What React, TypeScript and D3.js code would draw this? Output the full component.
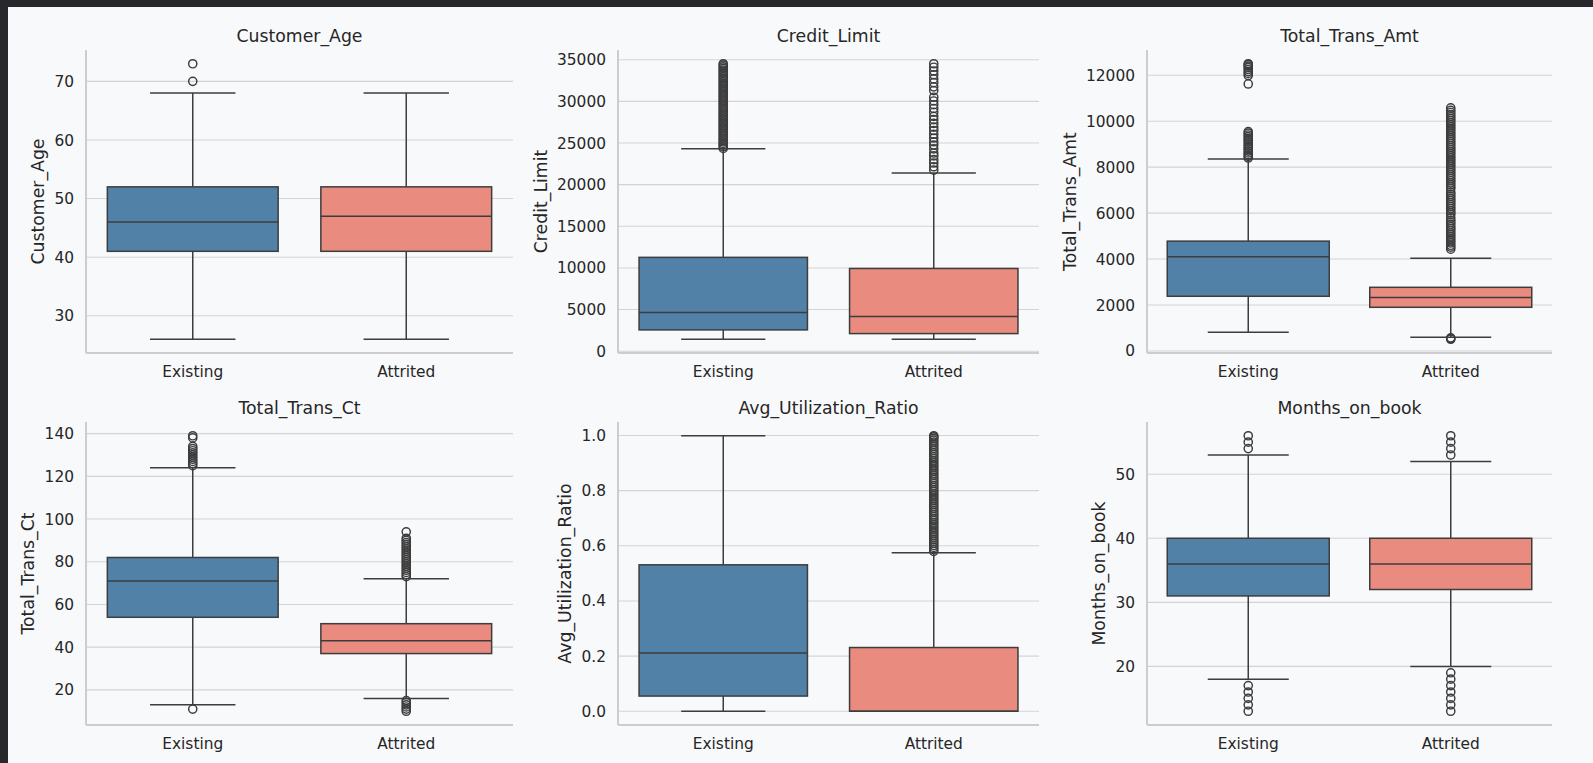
import { useEffect, useRef } from 'react';
import * as d3 from 'd3';

// [lower whisker, q1, median, q3, upper whisker] per category
const categories = ['Existing', 'Attrited'];

const customerAgeBox = [
  [26, 41, 46, 52, 68],
  [26, 41, 47, 52, 68],
];
const customerAgeOutliers = [[70, 73], []];
const customerAgeTicks = [30, 40, 50, 60, 70];

const creditLimitBox = [
  [1438, 2560, 4640, 11270, 24300],
  [1438, 2114, 4178, 9934, 21400],
];
const creditLimitOutliers = [
  [24350, 24550, 24760, 24950, 25150, 25360, 25550, 25760, 25950, 26150, 26350, 26560, 26750, 26950,
    27160, 27350, 27550, 27760, 27950, 28150, 28360, 28550, 28750, 28950, 29160, 29350, 29560, 29750,
    29950, 30160, 30350, 30550, 30760, 30950, 31150, 31360, 31550, 31750, 31960, 32150, 32350, 32560,
    32750, 32950, 33150, 33360, 33550, 33750, 33960, 34150, 34350, 34516],
  [21750, 22150, 22600, 23000, 23450, 23800, 24300, 24750, 25150, 25600, 26050, 26500, 26900, 27350,
    27800, 28200, 28700, 29150, 29600, 30050, 30500, 31300, 31750, 32250, 32700, 33200, 33650, 34100, 34516],
];
const creditLimitTicks = [0, 5000, 10000, 15000, 20000, 25000, 30000, 35000];

const transAmtBox = [
  [816, 2380, 4100, 4780, 8350],
  [600, 1900, 2330, 2770, 4030],
];
const transAmtOutliers = [
  [8400, 8470, 8540, 8620, 8700, 8780, 8850, 8930, 9010, 9090, 9170, 9250, 9330, 9400, 9480, 9550,
    11620, 11990, 12080, 12160, 12250, 12330, 12400, 12460, 12500],
  [510, 540, 570, 4430, 4520, 4600, 4700, 4790, 4870, 4970, 5060, 5140, 5240, 5330, 5410, 5510, 5600, 5680,
    5790, 5930, 6010, 6100, 6190, 6280, 6370, 6460, 6550, 6640, 6730, 6820, 6910, 7060, 7140, 7230, 7320,
    7410, 7500, 7590, 7680, 7770, 7860, 7950, 8040, 8130, 8220, 8310, 8400, 8490, 8580, 8670, 8760, 8850,
    8940, 9030, 9120, 9210, 9300, 9390, 9480, 9570, 9660, 9750, 9840, 9930, 10020, 10110, 10200, 10290,
    10380, 10470, 10580],
];
const transAmtTicks = [0, 2000, 4000, 6000, 8000, 10000, 12000];

const transCtBox = [
  [13, 54, 71, 82, 124],
  [16, 37, 43, 51, 72],
];
const transCtOutliers = [
  [11, 125, 126, 127, 128, 129, 130, 131, 132, 133, 134, 138, 139],
  [10, 11, 12, 13, 14, 15, 73, 74, 75, 76, 77, 78, 79, 80, 81, 82, 83, 84, 85, 86, 87, 88, 89, 90, 91, 94],
];
const transCtTicks = [20, 40, 60, 80, 100, 120, 140];

const utilBox = [
  [0, 0.055, 0.211, 0.531, 0.999],
  [0, 0, 0, 0.231, 0.575],
];
const utilOutliers = [
  [],
  [0.58, 0.587, 0.594, 0.601, 0.609, 0.616, 0.623, 0.631, 0.638, 0.646, 0.653, 0.661, 0.668, 0.676,
    0.683, 0.691, 0.698, 0.706, 0.713, 0.721, 0.728, 0.736, 0.743, 0.751, 0.758, 0.766, 0.773, 0.781,
    0.788, 0.796, 0.803, 0.811, 0.818, 0.826, 0.833, 0.841, 0.848, 0.856, 0.863, 0.871, 0.878, 0.886,
    0.893, 0.901, 0.908, 0.916, 0.923, 0.931, 0.938, 0.946, 0.953, 0.961, 0.968, 0.976, 0.983, 0.99,
    0.995, 0.999],
];
const utilTicks = [0, 0.2, 0.4, 0.6, 0.8, 1.0];

const monthsBox = [
  [18, 31, 36, 40, 53],
  [20, 32, 36, 40, 52],
];
const monthsOutliers = [
  [13, 14, 15, 16, 17, 54, 55, 56],
  [13, 14, 15, 16, 17, 18, 19, 53, 54, 55, 56],
];
const monthsTicks = [20, 30, 40, 50];

const panels = [
  { title: 'Customer_Age', box: customerAgeBox, outliers: customerAgeOutliers, ticks: customerAgeTicks, fmt: 'd' },
  { title: 'Credit_Limit', box: creditLimitBox, outliers: creditLimitOutliers, ticks: creditLimitTicks, fmt: 'd' },
  { title: 'Total_Trans_Amt', box: transAmtBox, outliers: transAmtOutliers, ticks: transAmtTicks, fmt: 'd' },
  { title: 'Total_Trans_Ct', box: transCtBox, outliers: transCtOutliers, ticks: transCtTicks, fmt: 'd' },
  { title: 'Avg_Utilization_Ratio', box: utilBox, outliers: utilOutliers, ticks: utilTicks, fmt: '.1f' },
  { title: 'Months_on_book', box: monthsBox, outliers: monthsOutliers, ticks: monthsTicks, fmt: 'd' },
];

const W = 1593;
const H = 763;
const COLS = [[86, 513], [618, 1039], [1147, 1552]];
const ROWS = [[50, 353], [422, 725]];
const FILLS = ['#5281a8', '#e98b7f'];
const INK = '#262626';
const LINE = '#3d3d3d';
const FONT = '"DejaVu Sans", sans-serif';

export default function App() {
  const ref = useRef<SVGSVGElement>(null);

  useEffect(() => {
    if (!ref.current) return;
    const svg = d3.select(ref.current);
    svg.selectAll('*').remove();

    svg.append('rect').attr('width', W).attr('height', H).attr('fill', '#26282c');
    svg.append('rect').attr('x', 8).attr('y', 7).attr('width', W - 8).attr('height', H - 7).attr('fill', '#f8f9fb');

    panels.forEach((p, i) => {
      const [x0, x1] = COLS[i % 3];
      const [y0, y1] = ROWS[Math.floor(i / 3)];
      const all = p.box.flat().concat(p.outliers.flat());
      const [mn, mx] = d3.extent(all) as [number, number];
      const pad = (mx - mn) * 0.05;
      const y = d3.scaleLinear().domain([mn - pad, mx + pad]).range([y1, y0]);
      const x = d3.scaleBand().domain(categories).range([x0, x1]);
      const fmt = d3.format(p.fmt);

      const g = svg.append('g').attr('font-family', FONT);

      g.selectAll('line.grid')
        .data(p.ticks)
        .join('line')
        .attr('x1', x0)
        .attr('x2', x1)
        .attr('y1', (d) => y(d))
        .attr('y2', (d) => y(d))
        .attr('stroke', '#d3d4d8')
        .attr('stroke-width', 1.1);

      g.append('line').attr('x1', x0).attr('x2', x0).attr('y1', y0).attr('y2', y1)
        .attr('stroke', '#cdcdd0').attr('stroke-width', 2);
      g.append('line').attr('x1', x0).attr('x2', x1).attr('y1', y1).attr('y2', y1)
        .attr('stroke', '#cdcdd0').attr('stroke-width', 2);

      const tickLabels = g.selectAll('text.tick')
        .data(p.ticks)
        .join('text')
        .attr('x', x0 - 12)
        .attr('y', (d) => y(d))
        .attr('dy', '0.36em')
        .attr('text-anchor', 'end')
        .attr('font-size', 15.4)
        .attr('fill', INK)
        .text((d) => fmt(d));

      let maxW = 0;
      tickLabels.each(function () {
        maxW = Math.max(maxW, (this as SVGTextElement).getBBox().width);
      });

      const ly = (y0 + y1) / 2;
      const lx = x0 - 12 - maxW - 10.5;
      g.append('text')
        .attr('transform', `translate(${lx},${ly}) rotate(-90)`)
        .attr('text-anchor', 'middle')
        .attr('font-size', 17.3)
        .attr('fill', INK)
        .text(p.title);

      g.append('text')
        .attr('x', (x0 + x1) / 2)
        .attr('y', y0 - 8)
        .attr('text-anchor', 'middle')
        .attr('font-size', 17.3)
        .attr('fill', INK)
        .text(p.title);

      categories.forEach((c, j) => {
        const cx = (x(c) ?? 0) + x.bandwidth() / 2;
        const bw = x.bandwidth() * 0.8;
        const cw = bw / 2;
        const [lo, q1, med, q3, hi] = p.box[j];

        g.append('text')
          .attr('x', cx)
          .attr('y', y1 + 24)
          .attr('text-anchor', 'middle')
          .attr('font-size', 15.4)
          .attr('fill', INK)
          .text(c);

        const seg = (ax: number, ay: number, bx: number, by: number) =>
          g.append('line').attr('x1', ax).attr('y1', ay).attr('x2', bx).attr('y2', by)
            .attr('stroke', LINE).attr('stroke-width', 1.5);

        seg(cx, y(lo), cx, y(q1));
        seg(cx, y(q3), cx, y(hi));
        seg(cx - cw / 2, y(lo), cx + cw / 2, y(lo));
        seg(cx - cw / 2, y(hi), cx + cw / 2, y(hi));

        g.append('rect')
          .attr('x', cx - bw / 2)
          .attr('y', y(q3))
          .attr('width', bw)
          .attr('height', Math.max(0, y(q1) - y(q3)))
          .attr('fill', FILLS[j])
          .attr('stroke', LINE)
          .attr('stroke-width', 1.5);

        seg(cx - bw / 2, y(med), cx + bw / 2, y(med));

        g.append('g')
          .selectAll('circle')
          .data(p.outliers[j])
          .join('circle')
          .attr('cx', cx)
          .attr('cy', (d) => y(d))
          .attr('r', 4.1)
          .attr('fill', 'none')
          .attr('stroke', LINE)
          .attr('stroke-width', 1.45);
      });
    });
  }, []);

  return (
    <div style={{ position: 'absolute', left: 0, top: 0 }}>
      <svg ref={ref} width={W} height={H} style={{ display: 'block' }} />
    </div>
  );
}
